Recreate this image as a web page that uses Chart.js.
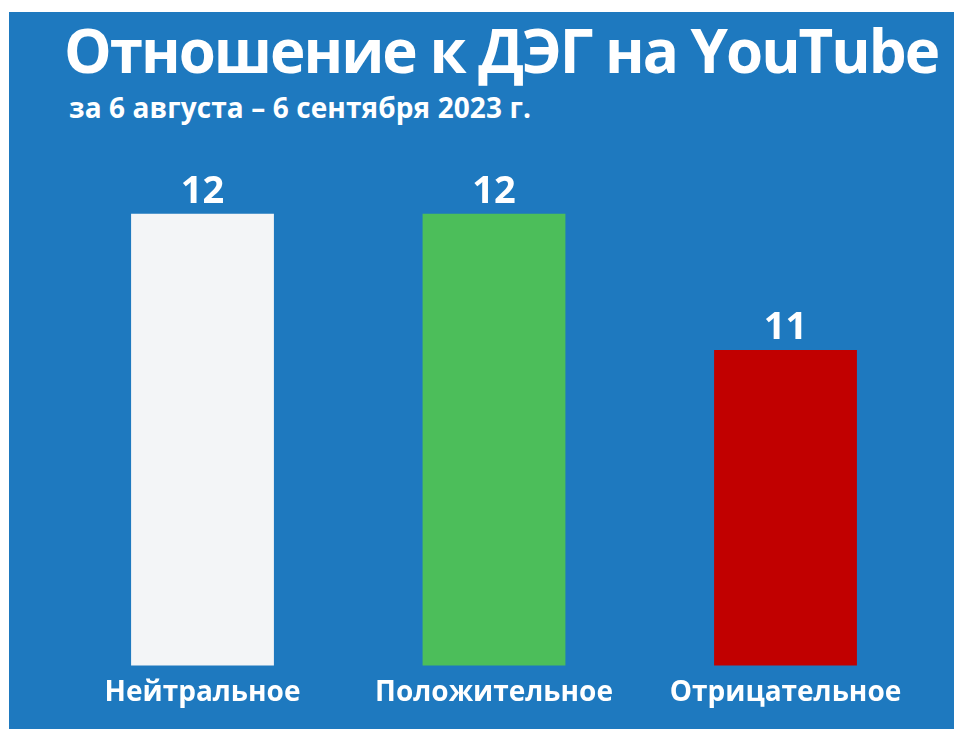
<!DOCTYPE html>
<html lang="ru">
<head>
<meta charset="utf-8">
<script src="https://cdn.jsdelivr.net/npm/chart.js@4"></script>
<style>
  html, body { margin: 0; padding: 0; background: #ffffff; width: 954px; height: 729px; overflow: hidden; }
  #panel { position: absolute; left: 9px; top: 12px; right: 0; bottom: 0; background: #1e79bf; }
  .txt { position: absolute; margin: 0; color: #ffffff; font-family: "Open Sans", sans-serif; font-weight: 700; white-space: nowrap; line-height: normal; }
  #title { left: 64px; top: 9px; font-size: 60px; letter-spacing: -2px; }
  #subtitle { left: 69px; top: 88px; font-size: 28px; letter-spacing: 0.1px; }
  #chart { position: absolute; left: 0; top: 130px; }
</style>
</head>
<body>
<div id="panel"></div>
<h1 class="txt" id="title">Отношение к ДЭГ на YouTube</h1>
<p class="txt" id="subtitle">за 6 августа – 6 сентября 2023 г.</p>
<canvas id="chart" width="954" height="599" style="width:954px;height:599px"></canvas>
<script>
const categories = ["Нейтральное", "Положительное", "Отрицательное"];
const values = [12, 12, 11];
const barColors = ["#f3f5f7", "#4cbe5a", "#c10000"];
const axisMin = 8.686;
const axisMax = 12.394;

const valueLabels = {
  id: "valueLabels",
  afterDatasetsDraw(chart) {
    const ctx = chart.ctx;
    const meta = chart.getDatasetMeta(0);
    ctx.save();
    ctx.fillStyle = "#ffffff";
    ctx.font = "700 38px 'Open Sans', sans-serif";
    ctx.textAlign = "center";
    ctx.textBaseline = "alphabetic";
    meta.data.forEach((bar, i) => {
      ctx.fillText(String(values[i]), bar.x, bar.y - 11);
    });
    ctx.restore();
  }
};

new Chart(document.getElementById("chart"), {
  type: "bar",
  data: {
    labels: categories,
    datasets: [{
      data: values,
      backgroundColor: barColors,
      borderWidth: 0,
      categoryPercentage: 1,
      barPercentage: 0.49
    }]
  },
  options: {
    responsive: false,
    animation: false,
    layout: { padding: { left: 56.75, right: 22.75, top: 30, bottom: 8 } },
    plugins: { legend: { display: false }, tooltip: { enabled: false }, title: { display: false } },
    scales: {
      x: {
        grid: { display: false, drawTicks: false },
        border: { display: false },
        ticks: { color: "#ffffff", padding: 11, font: { family: "'Open Sans', sans-serif", size: 28, weight: "700" } }
      },
      y: {
        display: false,
        min: axisMin,
        max: axisMax
      }
    }
  },
  plugins: [valueLabels]
});
</script>
</body>
</html>
